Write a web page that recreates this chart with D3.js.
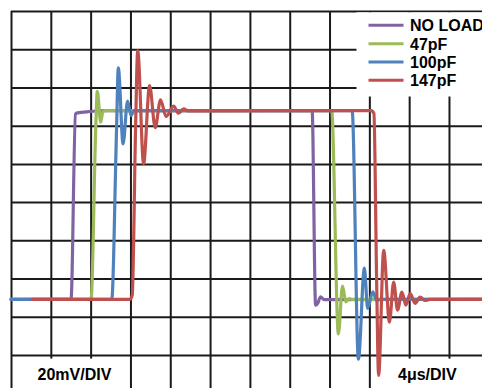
<!DOCTYPE html>
<html>
<head>
<meta charset="utf-8">
<script src="https://cdn.jsdelivr.net/npm/d3@7"></script>
<style>
  html, body { margin: 0; padding: 0; background: #fff; }
  svg { display: block; }
  text { font-family: "Liberation Sans", Arial, Helvetica, sans-serif; font-weight: bold; fill: #000; }
</style>
</head>
<body>
<svg id="chart" width="482" height="388"></svg>
<script>
// Step response of the output for several capacitive loads.
// Time in microseconds (4 us per division), amplitude in millivolts (20 mV per division).

const seriesNames = ["NO LOAD", "47pF", "100pF", "147pF"];
const seriesColors = ["#8064A2", "#9BBB59", "#4F81BD", "#C0504D"];

const timeTicks = [0, 4, 8, 12, 16, 20, 24, 28, 32, 36, 40, 44, 48];
const voltTicks = [-40, -20, 0, 20, 40, 60, 80, 100, 120, 140, 160];

// [time us, level mV]
const noLoad = [
  [0, 9.1], [6.03, 9.1], [6.48, 106.1], [6.68, 106.7], [7.94, 107.4], [8.94, 107.8],
  [30.25, 107.9], [30.60, 6.1], [30.80, 6.9], [31.10, 10.4], [31.46, 9.0], [48, 9.1]
];
const load47 = [
  [0, 9.1], [8.04, 9.1], [8.52, 100.1], [8.67, 118.0], [9.01, 101.8], [9.22, 107.1],
  [9.45, 107.8], [32.21, 107.9], [32.89, -9.0], [33.30, 16.0], [33.64, 7.8],
  [33.97, 9.5], [34.27, 9.1], [48, 9.1]
];
const load100 = [
  [0, 9.1], [10.12, 9.1], [10.60, 97.5], [10.78, 130.2], [11.26, 90.5], [11.71, 112.9],
  [12.06, 105.3], [12.36, 107.9], [34.27, 107.9], [34.90, -22.2], [35.50, 25.4],
  [35.83, 4.4], [36.35, 13.1], [36.73, 8.5], [37.08, 9.1], [48, 9.1]
];
const load147 = [
  [2.11, 9.1], [11.96, 9.1], [12.18, 11.3], [12.51, 97.5], [12.73, 139.3], [13.32, 80.1],
  [13.92, 121.0], [14.49, 98.9], [15.02, 113.5], [15.58, 104.8], [16.33, 110.2],
  [16.83, 106.5], [17.34, 108.8], [17.79, 107.7], [36.18, 107.9], [36.46, 106.4],
  [36.73, 19.2], [36.93, -30.7], [37.44, 34.8], [38.02, -2.8], [38.44, 18.1],
  [38.84, 3.5], [39.27, 12.9], [39.67, 6.1], [40.10, 12.1], [40.60, 7.0],
  [41.10, 10.3], [41.61, 8.5], [42.11, 9.1], [48, 9.1]
];
const seriesData = [noLoad, load47, load100, load147];

const voltLabel = "20mV/DIV";
const timeLabel = "4μs/DIV";

const svg = d3.select("#chart");
const plotLeft = 11, plotTop = 11, plotRight = 488.8, plotBottom = 393.2;

const x = d3.scaleLinear().domain([0, 48]).range([plotLeft, plotRight]);
const y = d3.scaleLinear().domain([-40, 160]).range([plotBottom, plotTop]);

// Grid: vertical lines from a bottom axis, horizontal lines from a left axis
const gridStyle = g => {
  g.select(".domain").remove();
  g.selectAll(".tick text").remove();
  g.selectAll(".tick line").attr("stroke", "#1a1a1a").attr("stroke-width", 2);
};
svg.append("g")
  .attr("transform", `translate(0,${plotBottom})`)
  .call(d3.axisBottom(x).tickValues(timeTicks).tickSize(-(plotBottom - plotTop)).tickFormat(""))
  .call(gridStyle);
svg.append("g")
  .attr("transform", `translate(${plotLeft},0)`)
  .call(d3.axisLeft(y).tickValues(voltTicks).tickSize(-(plotRight - plotLeft)).tickFormat(""))
  .call(gridStyle);

// Legend panel and scale-label panels cover the grid
svg.append("rect").attr("x", 356.5).attr("y", 12.3).attr("width", 130).attr("height", 84.2).attr("fill", "#fff");
svg.append("rect").attr("x", 24).attr("y", 358.6).attr("width", 100).attr("height", 32).attr("fill", "#fff");
svg.append("rect").attr("x", 383).attr("y", 358.6).attr("width", 90).attr("height", 32).attr("fill", "#fff");

// Traces
const line = d3.line()
  .x(d => x(d[0]))
  .y(d => y(d[1]))
  .curve(d3.curveMonotoneX);

svg.append("g")
  .selectAll("path")
  .data(seriesData)
  .join("path")
  .attr("d", line)
  .attr("fill", "none")
  .attr("stroke", (d, i) => seriesColors[i])
  .attr("stroke-width", 3.2)
  .attr("stroke-linejoin", "round")
  .attr("stroke-linecap", "round");

// Legend
const legend = svg.append("g");
const rowY = i => 25.3 + i * 18.33;
seriesNames.forEach((name, i) => {
  legend.append("line")
    .attr("x1", 368.5).attr("x2", 403.5)
    .attr("y1", rowY(i)).attr("y2", rowY(i))
    .attr("stroke", seriesColors[i]).attr("stroke-width", 3);
  legend.append("text")
    .attr("x", 410).attr("y", rowY(i) + 5.9)
    .attr("font-size", "16px")
    .text(name);
});

// Scale labels
svg.append("text").attr("x", 37.5).attr("y", 379.7).attr("font-size", "16px").text(voltLabel);
svg.append("text").attr("x", 398).attr("y", 379.7).attr("font-size", "16px").text(timeLabel);
</script>
</body>
</html>
